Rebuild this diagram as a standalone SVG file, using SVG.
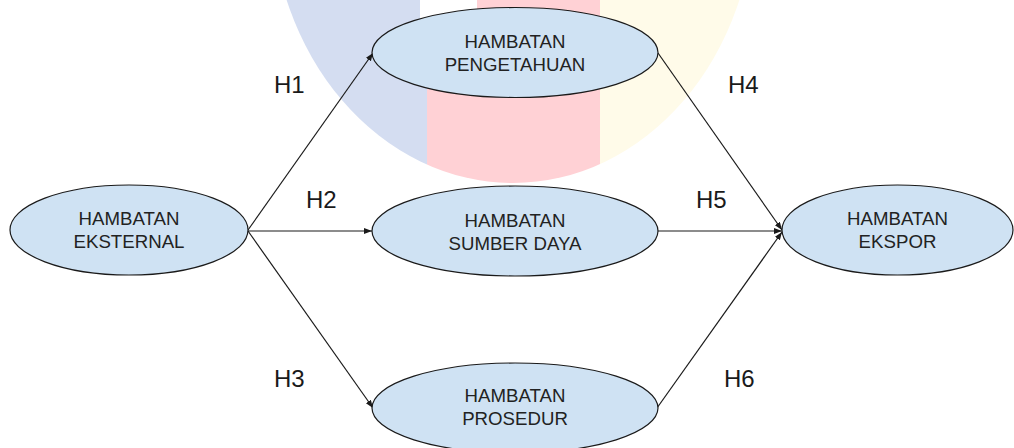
<svg xmlns="http://www.w3.org/2000/svg" width="1014" height="448" viewBox="0 0 1014 448">
<style>
.node ellipse{fill:#cfe2f3;stroke:#1a1a1a;stroke-width:1.2}
.node text{font-family:"Liberation Sans",Arial,sans-serif;font-size:18.67px;fill:#222;text-anchor:middle}
.lbl{font-family:"Liberation Sans",Arial,sans-serif;font-size:24px;fill:#1a1a1a}
.edge{stroke:#1a1a1a;stroke-width:1.2;fill:none;marker-end:url(#ah)}
</style>
<defs>
<marker id="ah" markerUnits="userSpaceOnUse" markerWidth="10" markerHeight="8" refX="8" refY="3" orient="auto">
<path d="M0,0 L8,3 L0,6 z" fill="#1a1a1a"/>
</marker>
<clipPath id="wm">
<ellipse cx="513" cy="-100" rx="242" ry="283"/>
</clipPath>
</defs>
<rect width="1014" height="448" fill="#ffffff"/>
<g id="watermark" clip-path="url(#wm)">
<rect x="260" y="0" width="167" height="200" fill="#d4ddf1"/>
<rect x="427" y="0" width="173" height="200" fill="#ffd1d5"/>
<rect x="600" y="0" width="160" height="200" fill="#fffbe9"/>
<rect x="420" y="0" width="57" height="60" fill="#ffffff"/>
</g>
<g id="connectors">
<line class="edge" x1="248" y1="230" x2="373" y2="53"/>
<line class="edge" x1="248" y1="231" x2="372" y2="231"/>
<line class="edge" x1="248" y1="231" x2="373" y2="408"/>
<line class="edge" x1="658" y1="53" x2="782" y2="230"/>
<line class="edge" x1="657" y1="231" x2="782" y2="231"/>
<line class="edge" x1="657" y1="408" x2="782" y2="232"/>
</g>
<g id="labels">
<text class="lbl" x="274" y="93">H1</text>
<text class="lbl" x="306" y="208">H2</text>
<text class="lbl" x="274" y="387">H3</text>
<text class="lbl" x="728" y="93">H4</text>
<text class="lbl" x="696" y="208">H5</text>
<text class="lbl" x="724" y="387">H6</text>
</g>
<g id="n-eksternal" class="node">
<ellipse cx="129" cy="230" rx="119" ry="45"/>
<text x="129" y="225">HAMBATAN</text>
<text x="129" y="248">EKSTERNAL</text>
</g>
<g id="n-pengetahuan" class="node">
<ellipse cx="515" cy="52.5" rx="143" ry="45"/>
<text x="515" y="47.5">HAMBATAN</text>
<text x="515" y="71">PENGETAHUAN</text>
</g>
<g id="n-sumberdaya" class="node">
<ellipse cx="515" cy="231" rx="143" ry="45"/>
<text x="515" y="226.5">HAMBATAN</text>
<text x="515" y="249.5">SUMBER DAYA</text>
</g>
<g id="n-prosedur" class="node">
<ellipse cx="515" cy="408" rx="143" ry="45"/>
<text x="515" y="402">HAMBATAN</text>
<text x="515" y="425">PROSEDUR</text>
</g>
<g id="n-ekspor" class="node">
<ellipse cx="897.5" cy="230" rx="115.5" ry="45"/>
<text x="897.5" y="225">HAMBATAN</text>
<text x="897.5" y="248">EKSPOR</text>
</g>
</svg>
